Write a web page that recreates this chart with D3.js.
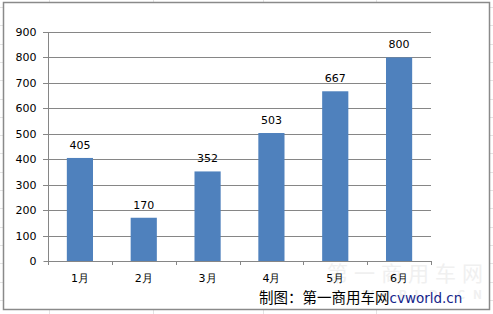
<!DOCTYPE html>
<html>
<head>
<meta charset="utf-8">
<script src="https://cdn.jsdelivr.net/npm/d3@7"></script>
<style>
  html, body { margin: 0; padding: 0; background: #fff; }
  svg { display: block; font-family: "DejaVu Sans", sans-serif; }
</style>
</head>
<body>
<svg id="chart" width="493" height="314"></svg>
<script>
const months = ["1月", "2月", "3月", "4月", "5月", "6月"];
const sales = [405, 170, 352, 503, 667, 800];
const yTicks = [0, 100, 200, 300, 400, 500, 600, 700, 800, 900];

const svg = d3.select("#chart");
const W = 493, H = 314;

// faint spreadsheet cells behind the chart
const bg = svg.append("g").attr("stroke", "#e3e3e3").attr("stroke-width", 1);
d3.range(7, H, 18.3).forEach(y => {
    bg.append("line").attr("x1", 0).attr("x2", W).attr("y1", Math.round(y) + 0.5).attr("y2", Math.round(y) + 0.5);
});
[49, 153, 263, 376].forEach(x => {
    bg.append("line").attr("x1", x + 0.5).attr("x2", x + 0.5).attr("y1", 0).attr("y2", H);
});

// chart area box
svg.append("rect")
    .attr("x", 3.5).attr("y", 2.5)
    .attr("width", 486).attr("height", 307)
    .attr("fill", "#fff")
    .attr("stroke", "#8a8a8a")
    .attr("stroke-width", 1.5);

// watermark
const wm = svg.append("g").attr("fill", "#f0f0f0").attr("font-family", "Noto Sans CJK SC, sans-serif");
wm.append("text").attr("x", 327).attr("y", 281).attr("font-size", 21)
    .attr("textLength", 156).attr("lengthAdjust", "spacing").text("第一商用车网");
wm.append("text").attr("x", 332).attr("y", 299).attr("font-size", 12).attr("font-weight", "bold")
    .attr("textLength", 150).attr("lengthAdjust", "spacing").text("CVWORLD.CN");

const plot = { left: 48, right: 431, top: 32, bottom: 261 };

const x = d3.scaleBand()
    .domain(months)
    .range([plot.left, plot.right])
    .paddingInner(0.59)
    .paddingOuter(0.295);

const y = d3.scaleLinear()
    .domain([0, 900])
    .range([plot.bottom, plot.top]);

// gridlines
svg.append("g")
    .selectAll("line")
    .data(yTicks.filter(d => d > 0))
    .join("line")
    .attr("x1", plot.left - 5).attr("x2", plot.right)
    .attr("y1", d => Math.round(y(d)) + 0.5).attr("y2", d => Math.round(y(d)) + 0.5)
    .attr("stroke", "#868686");

// y axis
const yAxis = svg.append("g")
    .attr("transform", `translate(${plot.left + 0.5},0)`)
    .call(d3.axisLeft(y).tickValues(yTicks).tickSize(5).tickPadding(7));
yAxis.select(".domain").attr("stroke", "#868686").attr("d", `M0,${plot.top}V${plot.bottom}`);
yAxis.selectAll(".tick line").attr("stroke", "#868686");
yAxis.selectAll(".tick").attr("transform", d => `translate(0,${Math.round(y(d)) + 0.5})`);
yAxis.selectAll("text").attr("font-size", 11).attr("fill", "#000").attr("font-family", "DejaVu Sans, sans-serif");

// bars
svg.append("g")
    .selectAll("rect")
    .data(sales)
    .join("rect")
    .attr("x", (d, i) => x(months[i]))
    .attr("width", x.bandwidth())
    .attr("y", d => y(d))
    .attr("height", d => y(0) - y(d))
    .attr("fill", "#4f81bd");

// value labels
svg.append("g")
    .selectAll("text")
    .data(sales)
    .join("text")
    .attr("x", (d, i) => x(months[i]) + x.bandwidth() / 2)
    .attr("y", d => y(d) - 9)
    .attr("text-anchor", "middle")
    .attr("font-size", 11)
    .attr("fill", "#000")
    .text(d => d);

// x axis
const step = (plot.right - plot.left) / months.length;
const xAxis = svg.append("g");
xAxis.append("line")
    .attr("x1", plot.left).attr("x2", plot.right)
    .attr("y1", plot.bottom + 0.5).attr("y2", plot.bottom + 0.5)
    .attr("stroke", "#868686");
xAxis.selectAll(".tk")
    .data(d3.range(months.length + 1))
    .join("line")
    .attr("class", "tk")
    .attr("x1", i => Math.round(plot.left + i * step) + 0.5)
    .attr("x2", i => Math.round(plot.left + i * step) + 0.5)
    .attr("y1", plot.bottom).attr("y2", plot.bottom + 4)
    .attr("stroke", "#868686");
xAxis.selectAll("text")
    .data(months)
    .join("text")
    .attr("x", d => x(d) + x.bandwidth() / 2)
    .attr("y", 282)
    .attr("text-anchor", "middle")
    .attr("font-size", 11)
    .attr("fill", "#000")
    .text(d => d);

// source caption
const cap = svg.append("text")
    .attr("x", 259).attr("y", 303)
    .attr("font-size", 14.5)
    .attr("font-family", "Noto Sans CJK SC, sans-serif");
cap.append("tspan").attr("fill", "#000").text("制图：第一商用车网");
cap.append("tspan").attr("fill", "#14248a").attr("font-family", "DejaVu Sans, sans-serif").attr("font-size", 13.5).text("cvworld.cn");
</script>
</body>
</html>
